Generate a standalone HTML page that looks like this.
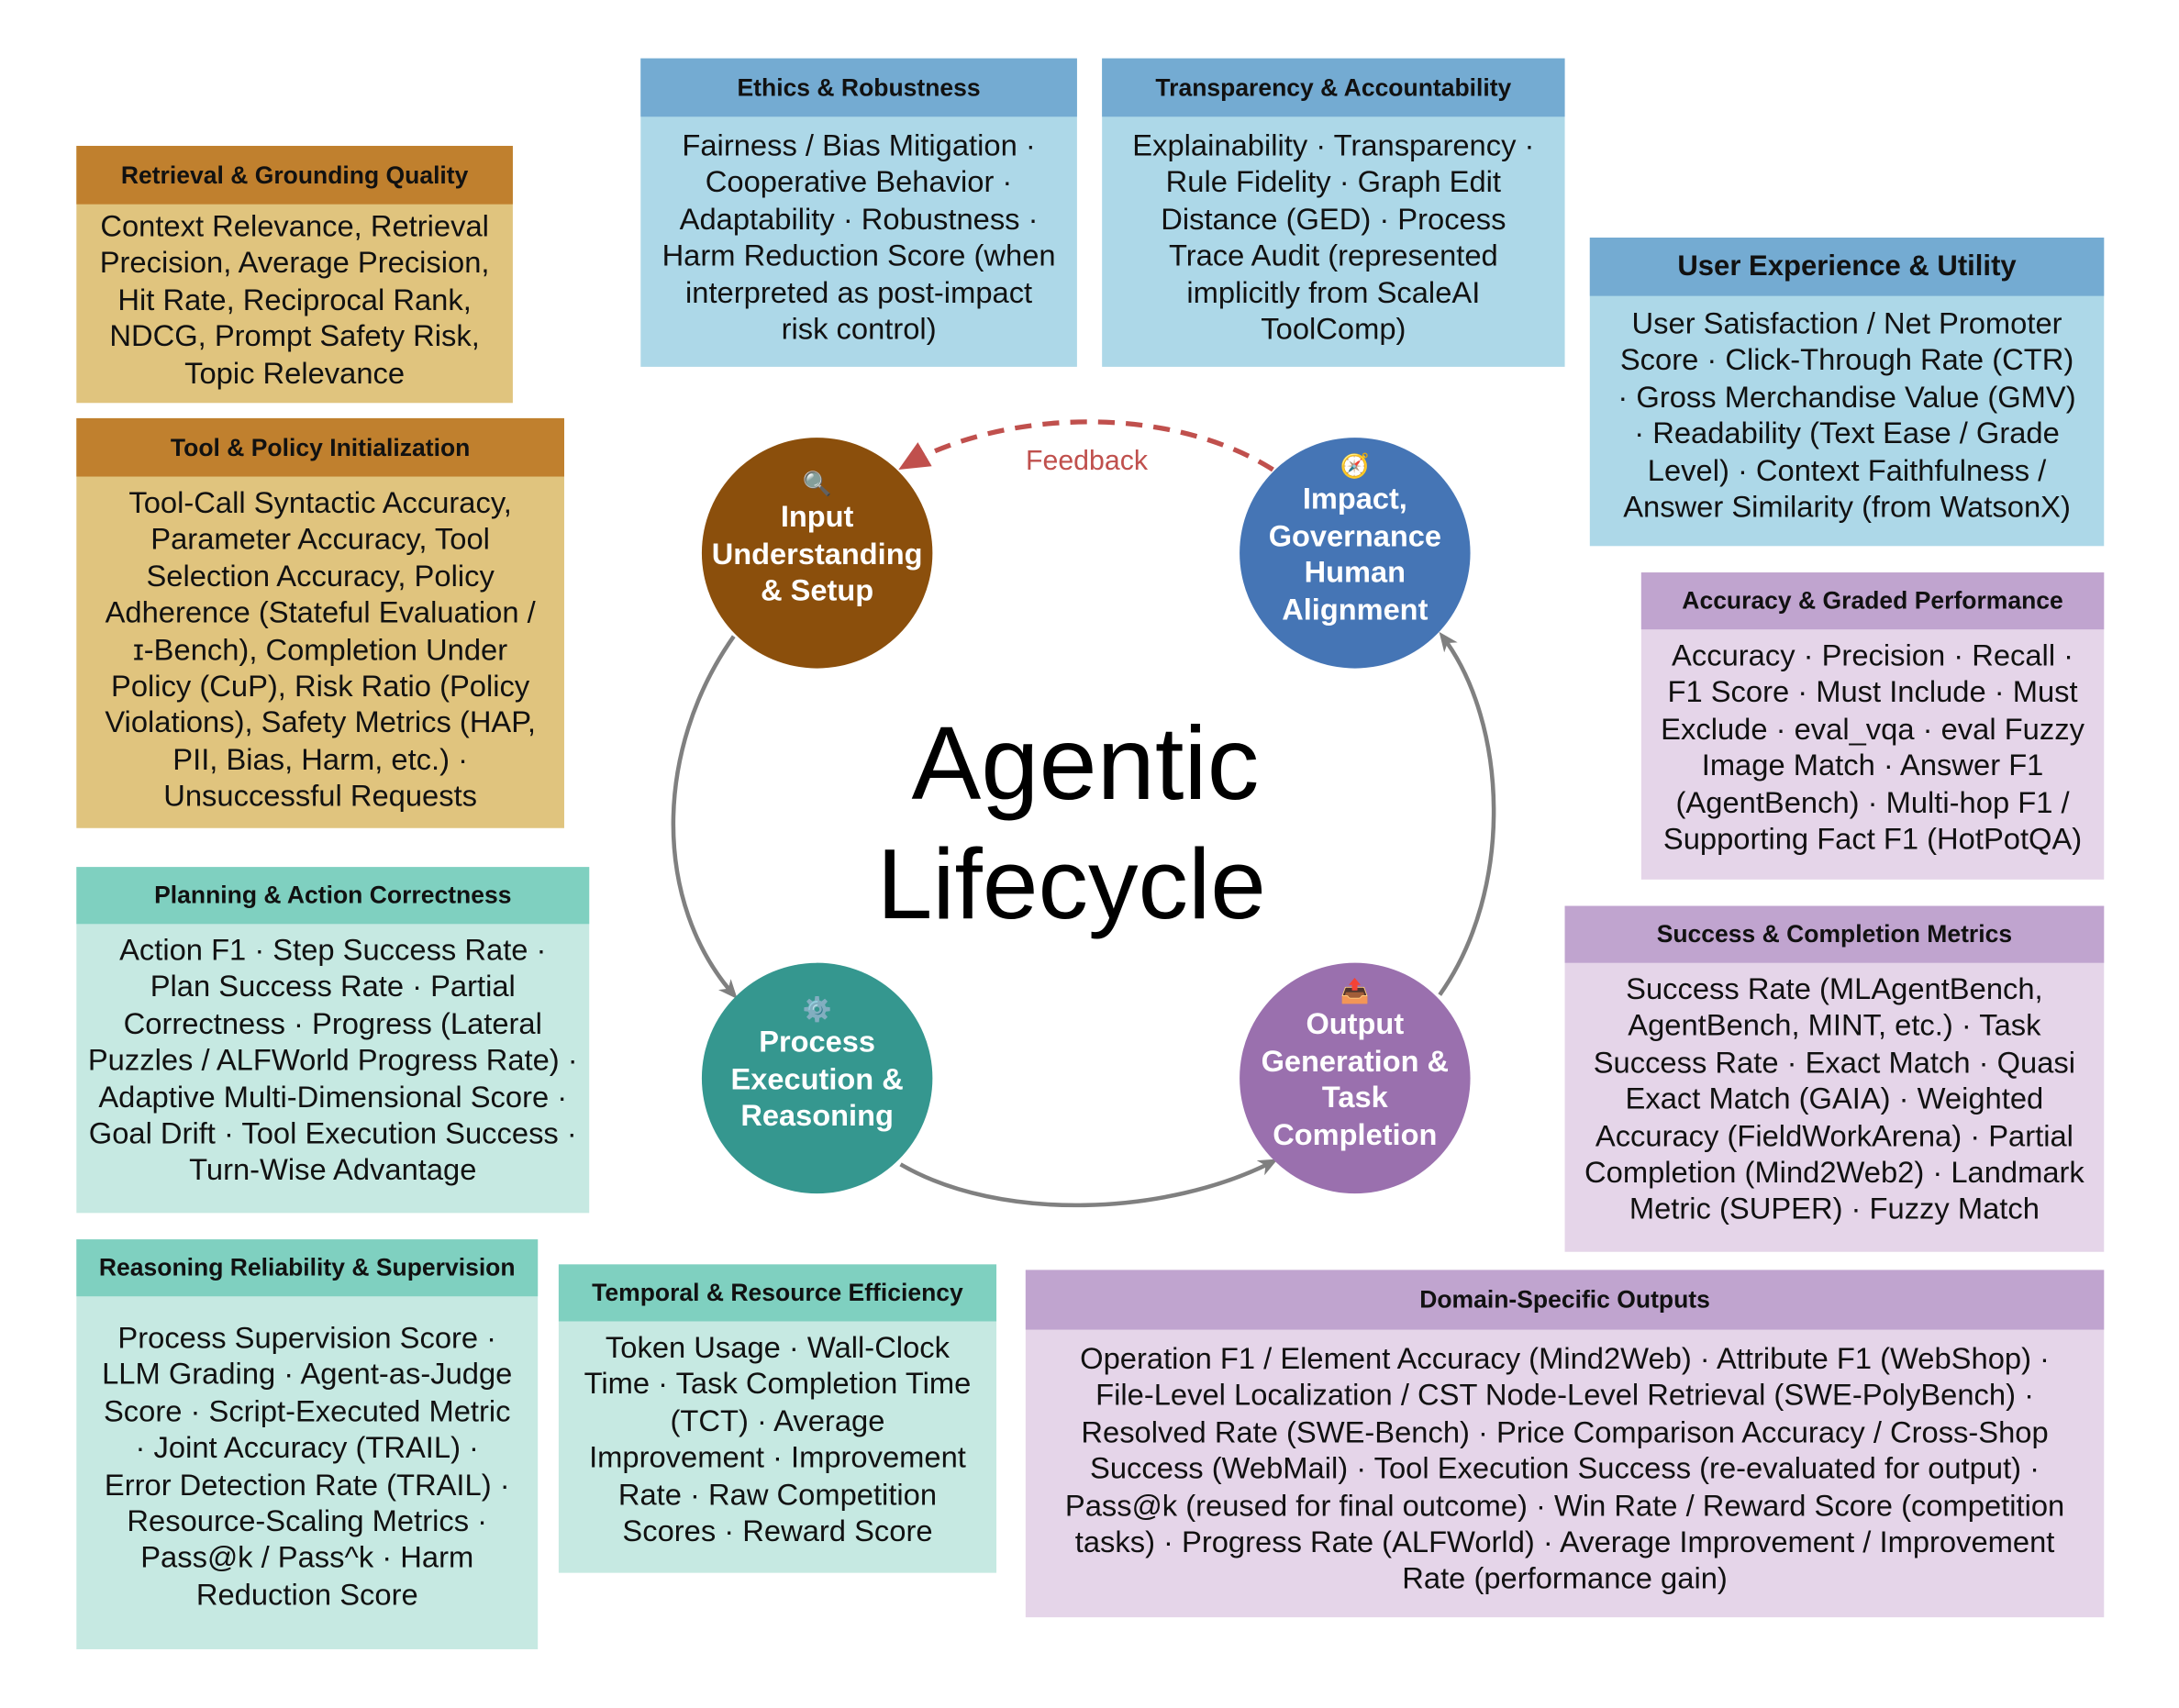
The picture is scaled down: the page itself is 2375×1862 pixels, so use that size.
<!DOCTYPE html>
<html><head><meta charset="utf-8"><style>
html,body{margin:0;padding:0;background:#fff;}
#w{position:relative;width:1568px;height:1229px;transform:scale(1.5147);transform-origin:0 0;font-family:"Liberation Sans",Arial,sans-serif;}
.b{position:absolute;box-sizing:border-box;}
.h{position:absolute;left:0;right:0;top:0;font-weight:bold;font-size:17.5px;color:#111;display:flex;align-items:center;justify-content:center;white-space:nowrap;}
.t{position:absolute;left:-10px;right:-10px;text-align:center;font-size:21.6px;line-height:26.4px;color:#111;white-space:nowrap;}
.c{position:absolute;width:166px;height:166px;border-radius:50%;color:#fff;font-weight:bold;font-size:21.5px;line-height:26.5px;text-align:center;display:flex;flex-direction:column;align-items:center;justify-content:center;}
.ic{font-size:17px;line-height:20px;margin-top:-18px;margin-bottom:0;}
.or .h{background:#c0802e}.or{background:#e0c47e}
.bl .h{background:#74abd2}.bl{background:#add8e8}
.te .h{background:#7fd0c0}.te{background:#c6e9e2}
.pu .h{background:#c0a4cf}.pu{background:#e5d5e9}
</style></head><body><div id="w">
<svg width="1568" height="1229" style="position:absolute;left:0;top:0">
<defs>
<marker id="ag" markerWidth="14" markerHeight="12" refX="10" refY="6" orient="auto" markerUnits="userSpaceOnUse"><path d="M0,0 L14,6 L0,12 L4,6z" fill="#7f7f7f"/></marker>
<marker id="ar" markerWidth="22" markerHeight="20" refX="18" refY="10" orient="auto" markerUnits="userSpaceOnUse"><path d="M0,0 L22,10 L0,20z" fill="#c0504d"/></marker>
</defs>
<g fill="none" stroke="#808080" stroke-width="3">
<path d="M528,458 C470,540 470,650 528,716" marker-end="url(#ag)"/>
<path d="M648,838 C720,880 840,875 916,836" marker-end="url(#ag)"/>
<path d="M1036,716 C1090,640 1085,520 1038,458" marker-end="url(#ag)"/>
</g>
<path d="M916,338 C840,290 720,295 650,336" fill="none" stroke="#c0504d" stroke-width="3.5" stroke-dasharray="12,8" marker-end="url(#ar)"/>
<text x="782" y="338" text-anchor="middle" font-size="20" fill="#c0504d" font-family="Liberation Sans, sans-serif">Feedback</text>
<text x="781" y="575" text-anchor="middle" font-size="75" fill="#000" font-family="Liberation Sans, sans-serif">Agentic</text>
<text x="771" y="661" text-anchor="middle" font-size="72" fill="#000" font-family="Liberation Sans, sans-serif">Lifecycle</text>
</svg>

<div class="c" style="left:505px;top:315px;background:#8b4f0c"><div class="ic">🔍</div>Input<br>Understanding<br>&amp; Setup</div>
<div class="c" style="left:892px;top:315px;background:#4575b5"><div class="ic">🧭</div>Impact,<br>Governance<br>Human<br>Alignment</div>
<div class="c" style="left:505px;top:693px;background:#35978f"><div class="ic">⚙️</div>Process<br>Execution &amp;<br>Reasoning</div>
<div class="c" style="left:892px;top:693px;background:#9a70ae"><div class="ic">📤</div>Output<br>Generation &amp;<br>Task<br>Completion</div>

<div class="b or" style="left:55px;top:105px;width:314px;height:185px"><div class="h" style="height:42px">Retrieval &amp; Grounding Quality</div><div class="t" style="top:45px">Context Relevance, Retrieval<br>Precision, Average Precision,<br>Hit Rate, Reciprocal Rank,<br>NDCG, Prompt Safety Risk,<br>Topic Relevance</div></div>

<div class="b or" style="left:55px;top:301px;width:351px;height:295px"><div class="h" style="height:42px">Tool &amp; Policy Initialization</div><div class="t" style="top:48px">Tool-Call Syntactic Accuracy,<br>Parameter Accuracy, Tool<br>Selection Accuracy, Policy<br>Adherence (Stateful Evaluation /<br>ɪ-Bench), Completion Under<br>Policy (CuP), Risk Ratio (Policy<br>Violations), Safety Metrics (HAP,<br>PII, Bias, Harm, etc.) ·<br>Unsuccessful Requests</div></div>

<div class="b te" style="left:55px;top:624px;width:369px;height:249px"><div class="h" style="height:41px">Planning &amp; Action Correctness</div><div class="t" style="top:47px">Action F1 · Step Success Rate ·<br>Plan Success Rate · Partial<br>Correctness · Progress (Lateral<br>Puzzles / ALFWorld Progress Rate) ·<br>Adaptive Multi-Dimensional Score ·<br>Goal Drift · Tool Execution Success ·<br>Turn-Wise Advantage</div></div>

<div class="b te" style="left:55px;top:892px;width:332px;height:295px"><div class="h" style="height:41px">Reasoning Reliability &amp; Supervision</div><div class="t" style="top:58px">Process Supervision Score ·<br>LLM Grading · Agent-as-Judge<br>Score · Script-Executed Metric<br>· Joint Accuracy (TRAIL) ·<br>Error Detection Rate (TRAIL) ·<br>Resource-Scaling Metrics ·<br>Pass@k / Pass^k · Harm<br>Reduction Score</div></div>

<div class="b te" style="left:402px;top:910px;width:315px;height:222px"><div class="h" style="height:41px">Temporal &amp; Resource Efficiency</div><div class="t" style="top:47px">Token Usage · Wall-Clock<br>Time · Task Completion Time<br>(TCT) · Average<br>Improvement · Improvement<br>Rate · Raw Competition<br>Scores · Reward Score</div></div>

<div class="b bl" style="left:461px;top:42px;width:314px;height:222px"><div class="h" style="height:42px">Ethics &amp; Robustness</div><div class="t" style="top:50px">Fairness / Bias Mitigation ·<br>Cooperative Behavior ·<br>Adaptability · Robustness ·<br>Harm Reduction Score (when<br>interpreted as post-impact<br>risk control)</div></div>

<div class="b bl" style="left:793px;top:42px;width:333px;height:222px"><div class="h" style="height:42px">Transparency &amp; Accountability</div><div class="t" style="top:50px">Explainability · Transparency ·<br>Rule Fidelity · Graph Edit<br>Distance (GED) · Process<br>Trace Audit (represented<br>implicitly from ScaleAI<br>ToolComp)</div></div>

<div class="b bl" style="left:1144px;top:171px;width:370px;height:222px"><div class="h" style="height:42px;font-size:20.5px">User Experience &amp; Utility</div><div class="t" style="top:49px">User Satisfaction / Net Promoter<br>Score · Click-Through Rate (CTR)<br>· Gross Merchandise Value (GMV)<br>· Readability (Text Ease / Grade<br>Level) · Context Faithfulness /<br>Answer Similarity (from WatsonX)</div></div>

<div class="b pu" style="left:1181px;top:412px;width:333px;height:221px"><div class="h" style="height:41px">Accuracy &amp; Graded Performance</div><div class="t" style="top:47px">Accuracy · Precision · Recall ·<br>F1 Score · Must Include · Must<br>Exclude · eval_vqa · eval Fuzzy<br>Image Match · Answer F1<br>(AgentBench) · Multi-hop F1 /<br>Supporting Fact F1 (HotPotQA)</div></div>

<div class="b pu" style="left:1126px;top:652px;width:388px;height:249px"><div class="h" style="height:41px">Success &amp; Completion Metrics</div><div class="t" style="top:47px">Success Rate (MLAgentBench,<br>AgentBench, MINT, etc.) · Task<br>Success Rate · Exact Match · Quasi<br>Exact Match (GAIA) · Weighted<br>Accuracy (FieldWorkArena) · Partial<br>Completion (Mind2Web2) · Landmark<br>Metric (SUPER) · Fuzzy Match</div></div>

<div class="b pu" style="left:738px;top:914px;width:776px;height:250px"><div class="h" style="height:43px">Domain-Specific Outputs</div><div class="t" style="top:51px">Operation F1 / Element Accuracy (Mind2Web) · Attribute F1 (WebShop) ·<br>File-Level Localization / CST Node-Level Retrieval (SWE-PolyBench) ·<br>Resolved Rate (SWE-Bench) · Price Comparison Accuracy / Cross-Shop<br>Success (WebMail) · Tool Execution Success (re-evaluated for output) ·<br>Pass@k (reused for final outcome) · Win Rate / Reward Score (competition<br>tasks) · Progress Rate (ALFWorld) · Average Improvement / Improvement<br>Rate (performance gain)</div></div>
</div></body></html>
